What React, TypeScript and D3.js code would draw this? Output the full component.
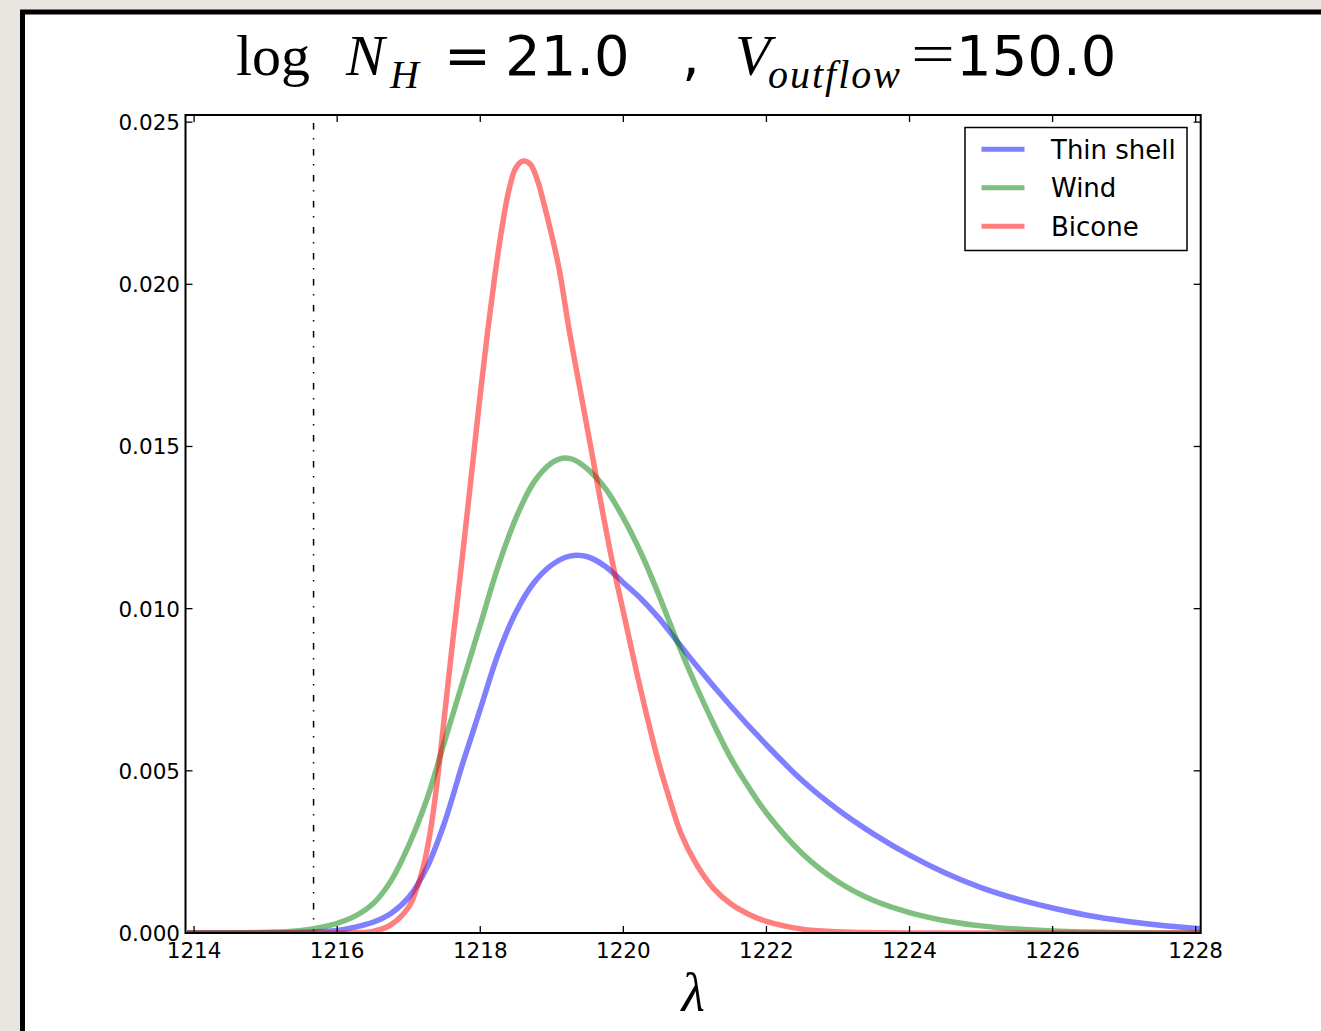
import React from "react";
import * as d3 from "d3";

// ---- data ----
const xTicks = [1214, 1216, 1218, 1220, 1222, 1224, 1226, 1228];
const yTicks = [0.0, 0.005, 0.01, 0.015, 0.02, 0.025];
const lyaLambda = 1215.67;

const thinShellL = [1213.9, 1215.0, 1215.5, 1216.0, 1216.25, 1216.5, 1216.75, 1217.0, 1217.25, 1217.5, 1217.75, 1218.0, 1218.25, 1218.5, 1218.75, 1219.0, 1219.25, 1219.5, 1219.75, 1220.0, 1220.25, 1220.5, 1220.75, 1221.0, 1221.5, 1222.0, 1222.5, 1223.0, 1223.5, 1224.0, 1224.5, 1225.0, 1225.5, 1226.0, 1226.5, 1227.0, 1227.5, 1228.07];
const thinShellV = [0, 0, 0.00002, 0.00008, 0.00018, 0.00033, 0.0006, 0.0011, 0.002, 0.0034, 0.0052, 0.0069, 0.0086, 0.0099, 0.0108, 0.01135, 0.01162, 0.0116, 0.0113, 0.0108, 0.0103, 0.0097, 0.009, 0.0083, 0.007, 0.0058, 0.0047, 0.0038, 0.00305, 0.0024, 0.00185, 0.0014, 0.00105, 0.00077, 0.00054, 0.00037, 0.00024, 0.00013];

const windL = [1213.9, 1214.5, 1215.0, 1215.5, 1216.0, 1216.25, 1216.5, 1216.75, 1217.0, 1217.25, 1217.5, 1217.75, 1218.0, 1218.25, 1218.5, 1218.75, 1219.0, 1219.15, 1219.3, 1219.5, 1219.75, 1220.0, 1220.25, 1220.5, 1220.75, 1221.0, 1221.25, 1221.5, 1221.75, 1222.0, 1222.5, 1223.0, 1223.5, 1224.0, 1224.5, 1225.0, 1225.5, 1226.0, 1227.0, 1228.07];
const windV = [0, 0, 0.00002, 0.00008, 0.0003, 0.00052, 0.0009, 0.0016, 0.0027, 0.0041, 0.0059, 0.0077, 0.0095, 0.0113, 0.0128, 0.0139, 0.0145, 0.01464, 0.0146, 0.0143, 0.0137, 0.0128, 0.0117, 0.0104, 0.009, 0.0077, 0.0065, 0.0054, 0.0045, 0.0037, 0.00245, 0.00158, 0.001, 0.00063, 0.00038, 0.00022, 0.00012, 0.00006, 0.00001, 0];

const biconeL = [1213.9, 1216.0, 1216.25, 1216.5, 1216.75, 1217.0, 1217.1, 1217.2, 1217.3, 1217.4, 1217.5, 1217.6, 1217.75, 1217.9, 1218.0, 1218.1, 1218.2, 1218.3, 1218.4, 1218.5, 1218.6, 1218.7, 1218.8, 1218.9, 1219.0, 1219.1, 1219.25, 1219.4, 1219.56, 1219.7, 1219.85, 1220.0, 1220.2, 1220.35, 1220.5, 1220.65, 1220.8, 1221.0, 1221.25, 1221.5, 1221.75, 1222.0, 1222.5, 1223.0, 1223.5, 1224.0, 1228.07];
const biconeV = [0, 0, 0.00001, 0.00005, 0.00025, 0.0008, 0.0013, 0.002, 0.0031, 0.0047, 0.0067, 0.0087, 0.0116, 0.0146, 0.0166, 0.0185, 0.0202, 0.0217, 0.0229, 0.0236, 0.0238, 0.0237, 0.0232, 0.0224, 0.0215, 0.0205, 0.0185, 0.0167, 0.0148, 0.0131, 0.0114, 0.0099, 0.0079, 0.0065, 0.0052, 0.0041, 0.0031, 0.0022, 0.0014, 0.0009, 0.00058, 0.00036, 0.00012, 0.00004, 0.00001, 0, 0];

const seriesNames = ["Thin shell", "Wind", "Bicone"];
const seriesColors = ["#0000ff", "#008000", "#ff0000"];

const W = 1321;
const H = 1031;
const plotLeft = 185.5;
const plotRight = 1200.7;
const plotTop = 115;
const plotBottom = 933;

export default function App() {
  React.useEffect(() => {
    document.body.style.margin = "0";
    document.body.style.overflow = "hidden";
  }, []);

  const x = d3.scaleLinear().domain([1213.88, 1228.07]).range([plotLeft, plotRight]);
  const y = d3.scaleLinear().domain([0, 0.02522]).range([plotBottom, plotTop]);

  const line = d3
    .line<[number, number]>()
    .x((d) => x(d[0]))
    .y((d) => y(d[1]))
    .curve(d3.curveCatmullRom.alpha(0.5));

  const series = [
    thinShellL.map((l, i) => [l, thinShellV[i]] as [number, number]),
    windL.map((l, i) => [l, windV[i]] as [number, number]),
    biconeL.map((l, i) => [l, biconeV[i]] as [number, number]),
  ];

  const sans = "'DejaVu Sans', sans-serif";
  const serif = "'Liberation Serif', 'DejaVu Serif', serif";
  const tickLen = 7;

  return (
    <svg width={W} height={H} style={{ position: "absolute", left: 0, top: 0, display: "block" }}>
      <defs>
        <clipPath id="plotClip">
          <rect x={plotLeft} y={plotTop} width={plotRight - plotLeft} height={plotBottom - plotTop} />
        </clipPath>
      </defs>
      <rect x={0} y={0} width={W} height={H} fill="#e9e6e1" />
      <rect x={22.5} y={12} width={W + 50} height={H + 50} fill="#ffffff" stroke="#000" strokeWidth={5} />

      {/* title */}
      <g fill="#000">
        <text x={236} y={75} fontFamily={serif} fontSize={58}>log</text>
        <text x={346} y={75} fontFamily={serif} fontSize={58} fontStyle="italic">N</text>
        <text x={390} y={88} fontFamily={serif} fontSize={40} fontStyle="italic">H</text>
        <text x={444} y={75} fontFamily={sans} fontSize={56}>=</text>
        <text x={505} y={75} fontFamily={sans} fontSize={56}>21.0</text>
        <text x={682} y={75} fontFamily={sans} fontSize={56}>,</text>
        <text x={735} y={75} fontFamily={serif} fontSize={58} fontStyle="italic">V</text>
        <text x={768} y={88} fontFamily={serif} fontSize={40} fontStyle="italic" textLength={132} lengthAdjust="spacing">outflow</text>
        <text x={911} y={73} fontFamily={serif} fontSize={58} textLength={44} lengthAdjust="spacingAndGlyphs">=</text>
        <text x={956} y={75} fontFamily={sans} fontSize={56}>150.0</text>
      </g>

      {/* dash-dot vertical line */}
      <line x1={x(lyaLambda)} x2={x(lyaLambda)} y1={plotTop + 8} y2={plotBottom} stroke="#000" strokeWidth={1.5} strokeDasharray="6.5,8.5,1.5,9.5" />

      {/* curves */}
      <g clipPath="url(#plotClip)">
        {series.map((s, i) => (
          <path key={i} d={line(s) || ""} fill="none" stroke={seriesColors[i]} strokeOpacity={0.5} strokeWidth={5.5} strokeLinejoin="round" />
        ))}
      </g>

      {/* ticks */}
      <g stroke="#000" strokeWidth={1.3}>
        {xTicks.map((t) => (
          <g key={"x" + t}>
            <line x1={x(t)} x2={x(t)} y1={plotBottom} y2={plotBottom - tickLen} />
            <line x1={x(t)} x2={x(t)} y1={plotTop} y2={plotTop + tickLen} />
          </g>
        ))}
        {yTicks.map((t) => (
          <g key={"y" + t}>
            <line x1={plotLeft} x2={plotLeft + tickLen} y1={y(t)} y2={y(t)} />
            <line x1={plotRight} x2={plotRight - tickLen} y1={y(t)} y2={y(t)} />
          </g>
        ))}
      </g>

      {/* frame */}
      <rect x={plotLeft} y={plotTop} width={plotRight - plotLeft} height={plotBottom - plotTop} fill="none" stroke="#000" strokeWidth={2} />

      {/* tick labels */}
      <g fontFamily={sans} fontSize={21.5} fill="#000">
        {xTicks.map((t) => (
          <text key={"xl" + t} x={x(t)} y={958} textAnchor="middle">{String(t)}</text>
        ))}
        {yTicks.map((t) => (
          <text key={"yl" + t} x={180} y={y(t) + 8} textAnchor="end">{t.toFixed(3)}</text>
        ))}
      </g>

      {/* axis label */}
      <text x={(plotLeft + plotRight) / 2} y={1011} textAnchor="middle" fontFamily={serif} fontSize={54} fontStyle="italic">λ</text>

      {/* legend */}
      <rect x={965} y={127.5} width={222} height={123} fill="#fff" stroke="#000" strokeWidth={1.5} />
      {seriesNames.map((n, i) => (
        <g key={n}>
          <line x1={981.5} x2={1024.5} y1={149.3 + i * 38.5} y2={149.3 + i * 38.5} stroke={seriesColors[i]} strokeOpacity={0.5} strokeWidth={5} />
          <text x={1051} y={149.3 + i * 38.5 + 9.5} fontFamily={sans} fontSize={26} fill="#000">{n}</text>
        </g>
      ))}
    </svg>
  );
}
